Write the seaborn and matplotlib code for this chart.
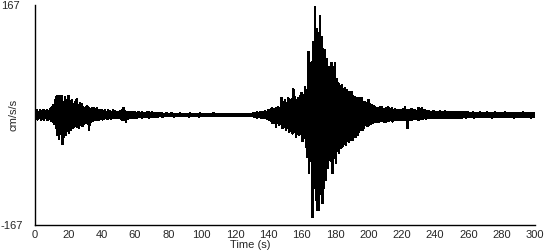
import numpy as np
import pandas as pd
import matplotlib
matplotlib.use("Agg")
import matplotlib.pyplot as plt
import seaborn as sns

# One upper and one lower peak reading per second, t = 0..299 s
step_s = 1
n_samples = 300

# Upper (positive) peak amplitudes, cm/s/s
upper_peaks = [
    6, 8, 5, 7, 6, 8, 5, 7, 6, 9,
    12, 15, 22, 28, 29, 25, 29, 20, 27, 22,
    29, 18, 22, 16, 20, 24, 15, 18, 17, 12,
    10, 13, 12, 9, 10, 11, 8, 10, 7, 8,
    7, 6, 8, 5, 7, 6, 5, 7, 6, 5,
    5, 6, 7, 11, 6, 5, 4, 5, 4, 4,
    4, 3, 5, 3, 4, 3, 3, 4, 5, 3,
    4, 3, 3, 3, 3, 2, 3, 2, 2, 3,
    2, 2, 3, 2, 2, 2, 2, 3, 2, 2,
    2, 2, 2, 3, 2, 2, 2, 2, 2, 3,
    2, 2, 2, 2, 2, 2, 2, 3, 2, 2,
    2, 2, 2, 2, 2, 2, 2, 2, 2, 2,
    1, 2, 1, 2, 1, 2, 1, 2, 1, 2,
    2, 3, 3, 4, 3, 5, 4, 5, 6, 5,
    8, 7, 10, 9, 8, 11, 12, 10, 26, 20,
    22, 18, 25, 23, 24, 39, 27, 22, 25, 28,
    34, 30, 43, 38, 96, 70, 80, 110, 164, 130,
    125, 150, 118, 100, 99, 85, 73, 60, 79, 72,
    79, 55, 48, 44, 45, 40, 41, 38, 35, 30,
    35, 28, 27, 25, 26, 22, 26, 20, 20, 18,
    23, 17, 15, 14, 12, 11, 10, 12, 12, 9,
    9, 11, 12, 9, 10, 8, 9, 8, 8, 7,
    8, 9, 12, 8, 8, 7, 9, 7, 7, 6,
    11, 8, 10, 7, 7, 6, 6, 5, 5, 6,
    5, 5, 5, 6, 5, 5, 6, 5, 4, 5,
    5, 4, 4, 5, 4, 5, 4, 4, 5, 4,
    4, 3, 3, 4, 3, 3, 3, 4, 3, 3,
    3, 4, 3, 3, 3, 3, 4, 3, 3, 3,
    3, 3, 4, 3, 3, 3, 3, 3, 3, 3,
    3, 3, 3, 4, 3, 3, 3, 3, 3, 3,
]

# Lower (negative) peak amplitudes, cm/s/s
lower_peaks = [
    -6, -7, -5, -8, -6, -7, -5, -8, -6, -9,
    -10, -14, -20, -30, -36, -28, -44, -33, -30, -24,
    -27, -22, -20, -18, -16, -18, -19, -15, -17, -14,
    -12, -13, -22, -10, -9, -8, -8, -7, -8, -6,
    -7, -6, -5, -6, -5, -6, -5, -4, -5, -5,
    -5, -6, -8, -8, -11, -6, -5, -4, -4, -4,
    -4, -4, -3, -3, -4, -3, -3, -3, -4, -3,
    -3, -3, -3, -3, -2, -2, -3, -2, -2, -2,
    -2, -2, -2, -3, -2, -2, -2, -2, -2, -2,
    -2, -2, -3, -2, -2, -2, -2, -2, -3, -2,
    -2, -2, -2, -2, -2, -2, -2, -2, -2, -2,
    -2, -2, -2, -2, -2, -2, -2, -2, -2, -2,
    -1, -2, -1, -2, -1, -2, -1, -2, -1, -2,
    -2, -3, -3, -4, -3, -4, -5, -5, -5, -6,
    -7, -9, -12, -10, -18, -12, -15, -14, -20, -18,
    -22, -20, -25, -24, -28, -26, -33, -28, -30, -28,
    -40, -35, -49, -64, -88, -70, -155, -110, -129, -144,
    -144, -120, -134, -110, -99, -80, -68, -70, -88, -65,
    -73, -55, -58, -50, -48, -44, -45, -40, -41, -38,
    -38, -34, -33, -30, -25, -22, -23, -20, -15, -17,
    -15, -14, -12, -11, -10, -10, -10, -9, -9, -10,
    -10, -9, -9, -8, -10, -8, -8, -7, -8, -7,
    -7, -8, -8, -20, -8, -7, -7, -6, -6, -7,
    -7, -6, -6, -5, -6, -5, -5, -5, -5, -5,
    -5, -5, -4, -5, -5, -4, -5, -4, -4, -4,
    -4, -4, -4, -5, -4, -4, -4, -3, -4, -3,
    -3, -3, -3, -4, -3, -3, -3, -3, -3, -3,
    -3, -3, -3, -3, -4, -3, -3, -3, -3, -3,
    -3, -3, -3, -3, -3, -3, -3, -4, -3, -3,
    -3, -3, -3, -3, -3, -3, -3, -4, -3, -3,
]

x_ticks = [0, 20, 40, 60, 80, 100, 120, 140, 160, 180, 200, 220, 240, 260, 280, 300]
y_limit = 167

# Interleave upper and lower readings into one trace
t_up = np.arange(n_samples) * step_s
t_low = t_up + step_s / 2
time = np.empty(2 * n_samples)
acc = np.empty(2 * n_samples)
time[0::2] = t_up
time[1::2] = t_low
acc[0::2] = upper_peaks
acc[1::2] = lower_peaks
df = pd.DataFrame({"Time (s)": time, "cm/s/s": acc})

sns.set_theme(style="white")
plt.rcParams["font.family"] = ["Liberation Sans", "DejaVu Sans"]

fig = plt.figure(figsize=(5.5, 2.5), dpi=100)
ax = fig.add_axes([35 / 550, 1 - 225 / 250, 500 / 550, 220 / 250])
sns.lineplot(data=df, x="Time (s)", y="cm/s/s", ax=ax, color="black",
             linewidth=1.0, estimator=None, sort=False, antialiased=False)

ax.set_xlim(0, 300)
ax.set_ylim(-y_limit, y_limit)
ax.set_xticks(x_ticks)
ax.set_xticklabels([str(v) for v in x_ticks], fontsize=8)
ax.set_yticks([-y_limit, y_limit])
ax.set_yticklabels(["-167", "167"], fontsize=8)
for lab in ax.get_yticklabels():
    lab.set_horizontalalignment("left")
ax.tick_params(axis="y", which="major", direction="out", length=5, width=1,
               color="black", pad=19.5)
ax.tick_params(axis="x", which="major", direction="inout", length=5, width=1,
               color="black", pad=1)
ax.set_xlabel("Time (s)", fontsize=8, labelpad=0)
ax.set_ylabel("cm/s/s", fontsize=8)
ax.xaxis.set_label_coords(0.43, -0.07)
ax.yaxis.set_label_coords(-0.032, 0.5)
sns.despine(ax=ax)
for s in ["left", "bottom"]:
    ax.spines[s].set_color("black")
    ax.spines[s].set_linewidth(1)

fig.savefig("out.png", dpi=100, facecolor="white")
